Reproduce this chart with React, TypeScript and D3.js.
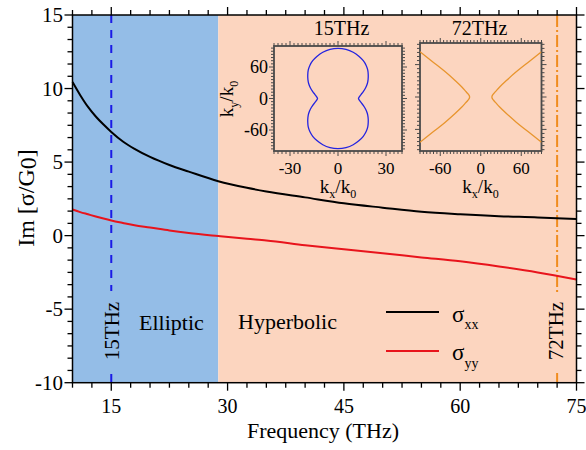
import React from 'react';
import * as d3 from 'd3';

// ---- main chart data ----
const freq = [10, 11, 12, 13, 14, 15, 16.5, 18, 20, 22.5, 25, 28.8, 32.5, 35, 40, 45, 50, 55, 60, 65, 70, 75];
const sigmaXX = [10.45, 9.55, 8.75, 8.1, 7.55, 7.05, 6.4, 5.9, 5.35, 4.8, 4.35, 3.7, 3.25, 3.0, 2.6, 2.2, 1.9, 1.62, 1.45, 1.32, 1.24, 1.12];
const sigmaYY = [1.78, 1.6, 1.45, 1.3, 1.16, 1.03, 0.86, 0.7, 0.55, 0.35, 0.18, -0.03, -0.22, -0.33, -0.65, -0.93, -1.2, -1.48, -1.75, -2.1, -2.5, -2.98];
const xTickLabels = [15, 30, 45, 60, 75];
const yTickLabels = [-10, -5, 0, 5, 10, 15];
const ellipticEnd = 28.8;
const marker15 = 15;
const marker72 = 72.5;

// ---- inset data (first quadrant, mirrored by symmetry) ----
const peanutKx = [12.8, 13.3, 14.5, 15.8, 17.2, 18.3, 18.8, 18.9, 18.6, 17.6, 15.8, 13.2, 9.5, 5.0, 0];
const peanutKy = [0, 3, 8, 13, 20, 28, 36, 45, 54, 63, 72, 80, 88, 93.5, 95.5];
const hyperKx = [16.5, 17.2, 19, 22.5, 28, 38, 53, 70, 90];
const hyperKy = [0, 3, 6, 11, 18.5, 30.5, 47, 64, 84];
const inset1XTicks = [-30, 0, 30];
const inset1YTicks = [60, 0, -60];
const inset2XTicks = [-60, 0, 60];
const inset2YTicks = [60, 0, -60];

const FONT = "'Liberation Serif', 'Times New Roman', serif";
const BLUE_BG = '#94bde7';
const PEACH_BG = '#fcd5bf';

const x = d3.scaleLinear().domain([10, 75]).range([72.5, 576.5]);
const y = d3.scaleLinear().domain([-10, 15]).range([382.7, 15]);

function Inset({ xs, ys, id, xMinorStep, yMinorStep, majorX, majorY }: any) {
  const [x0, x1] = xs.range();
  const [y0, y1] = ys.range(); // y0 bottom, y1 top
  const xd = xs.domain();
  const yd = ys.domain();
  const xMinor = d3.range(Math.ceil(xd[0] / xMinorStep) * xMinorStep, xd[1] + 1e-6, xMinorStep);
  const yMinor = d3.range(Math.ceil(yd[0] / yMinorStep) * yMinorStep, yd[1] + 1e-6, yMinorStep);
  const ticks: any[] = [];
  xMinor.forEach((v: number, i: number) => {
    const isMajor = majorX.some((m: number) => Math.abs(m - v) < 1e-6);
    const L = isMajor ? 5 : 3;
    const px = xs(v);
    ticks.push(<line key={`xb${i}`} x1={px} x2={px} y1={y0} y2={y0 + L} />);
    ticks.push(<line key={`xt${i}`} x1={px} x2={px} y1={y1} y2={y1 - L} />);
  });
  yMinor.forEach((v: number, i: number) => {
    const isMajor = majorY.some((m: number) => Math.abs(m - v) < 1e-6);
    const L = isMajor ? 5 : 3;
    const py = ys(v);
    ticks.push(<line key={`yl${i}`} x1={x0} x2={x0 - L} y1={py} y2={py} />);
    ticks.push(<line key={`yr${i}`} x1={x1} x2={x1 + L} y1={py} y2={py} />);
  });
  return (
    <g>
      <rect x={x0} y={y1} width={x1 - x0} height={y0 - y1} fill={PEACH_BG} />
      <clipPath id={id}>
        <rect x={x0} y={y1} width={x1 - x0} height={y0 - y1} />
      </clipPath>
      <g stroke="#4a4a4a" strokeWidth={1}>{ticks}</g>
      <rect x={x0} y={y1} width={x1 - x0} height={y0 - y1} fill="none" stroke="#4a4a4a" strokeWidth={1.8} />
    </g>
  );
}

function KLabel({ a, b }: { a: string; b: string }) {
  return (
    <>
      k<tspan fontSize={12} dy={5}>{a}</tspan>
      <tspan dy={-5}>/k</tspan>
      <tspan fontSize={12} dy={5}>{b}</tspan>
    </>
  );
}

export default function App() {
  const lineGen = d3
    .line<number>()
    .x((_, i) => x(freq[i]))
    .curve(d3.curveMonotoneX);
  const pathXX = lineGen.y((d) => y(d))(sigmaXX) as string;
  const pathYY = lineGen.y((d) => y(d))(sigmaYY) as string;

  const xMinor = d3.range(10, 75.001, 2.5);
  const yMinor = d3.range(0, 31).map((i) => -10 + (i * 5) / 6);

  const ix1 = d3.scaleLinear().domain([-40, 40]).range([274, 402]);
  const iy1 = d3.scaleLinear().domain([-100, 100]).range([151, 46]);
  const ix2 = d3.scaleLinear().domain([-90, 90]).range([420, 541.5]);
  const iy2 = d3.scaleLinear().domain([-100, 100]).range([151, 43]);

  const q1 = peanutKx.map((kx, i) => [kx, peanutKy[i]]);
  const peanutPts = [
    ...q1,
    ...q1.slice(0, -1).reverse().map(([a, b]) => [-a, b]),
    ...q1.slice(1).map(([a, b]) => [-a, -b]),
    ...q1.slice(1, -1).reverse().map(([a, b]) => [a, -b]),
  ];
  const peanutPath = d3
    .line<number[]>()
    .x((d) => ix1(d[0]))
    .y((d) => iy1(d[1]))
    .curve(d3.curveCatmullRomClosed)(peanutPts) as string;

  const hq = hyperKx.map((kx, i) => [kx, hyperKy[i]]);
  const rightBranch = [...hq.slice().reverse().map(([a, b]) => [a, -b]), ...hq.slice(1)];
  const leftBranch = rightBranch.map(([a, b]) => [-a, b]);
  const hLine = d3
    .line<number[]>()
    .x((d) => ix2(d[0]))
    .y((d) => iy2(d[1]))
    .curve(d3.curveCatmullRom);

  return (
    <svg
      width={586}
      height={450}
      style={{ position: 'absolute', left: 0, top: 0, background: '#fff' }}
      fontFamily={FONT}
    >
      {/* regions */}
      <rect x={x(10)} y={y(15)} width={x(ellipticEnd) - x(10)} height={y(-10) - y(15)} fill={BLUE_BG} />
      <rect x={x(ellipticEnd)} y={y(15)} width={x(75) - x(ellipticEnd)} height={y(-10) - y(15)} fill={PEACH_BG} />

      {/* marker lines */}
      <g stroke="#1a1ae6" strokeWidth={2} strokeDasharray="8,7">
        <line x1={x(marker15)} x2={x(marker15)} y1={y(15)} y2={291} />
        <line x1={x(marker15)} x2={x(marker15)} y1={374} y2={y(-10)} />
      </g>
      <g stroke="#f08c1e" strokeWidth={2} strokeDasharray="12,3,2,3">
        <line x1={x(marker72)} x2={x(marker72)} y1={y(15)} y2={292} />
        <line x1={x(marker72)} x2={x(marker72)} y1={373} y2={y(-10)} />
      </g>

      {/* curves */}
      <path d={pathXX} fill="none" stroke="#000" strokeWidth={2} />
      <path d={pathYY} fill="none" stroke="#e8141c" strokeWidth={2} />

      {/* insets */}
      <Inset xs={ix1} ys={iy1} id="clip1" xMinorStep={2.5} yMinorStep={6} majorX={inset1XTicks} majorY={inset1YTicks} />
      <path d={peanutPath} fill="none" stroke="#2424e0" strokeWidth={1.3} clipPath="url(#clip1)" />
      <Inset xs={ix2} ys={iy2} id="clip2" xMinorStep={5} yMinorStep={7.5} majorX={inset2XTicks} majorY={inset2YTicks} />
      <g clipPath="url(#clip2)" fill="none" stroke="#e8952e" strokeWidth={1.3}>
        <path d={hLine(rightBranch) as string} />
        <path d={hLine(leftBranch) as string} />
      </g>

      {/* inset texts */}
      <text x={341.5} y={35} fontSize={20} textAnchor="middle">15THz</text>
      <text x={479.5} y={35} fontSize={20} textAnchor="middle">72THz</text>
      {inset1YTicks.map((v) => (
        <text key={`i1y${v}`} x={268} y={iy1(v) + 6} fontSize={18} textAnchor="end">{v}</text>
      ))}
      {inset1XTicks.map((v) => (
        <text key={`i1x${v}`} x={ix1(v)} y={174} fontSize={17} textAnchor="middle">{v}</text>
      ))}
      {inset2XTicks.map((v) => (
        <text key={`i2x${v}`} x={ix2(v)} y={174} fontSize={17} textAnchor="middle">{v}</text>
      ))}
      <text x={338} y={193} fontSize={19} textAnchor="middle"><KLabel a="x" b="0" /></text>
      <text x={480.5} y={193} fontSize={19} textAnchor="middle"><KLabel a="x" b="0" /></text>
      <text transform="translate(233,99) rotate(-90)" fontSize={19} textAnchor="middle"><KLabel a="y" b="0" /></text>

      {/* frame and ticks */}
      <rect x={x(10)} y={y(15)} width={x(75) - x(10)} height={y(-10) - y(15)} fill="none" stroke="#000" strokeWidth={1.5} />
      <g stroke="#000" strokeWidth={1.3}>
        {xMinor.map((v, i) => {
          const L = v % 15 === 0 ? 8 : 5;
          return (
            <g key={`xt${i}`}>
              <line x1={x(v)} x2={x(v)} y1={y(-10)} y2={y(-10) + L} />
              <line x1={x(v)} x2={x(v)} y1={y(15)} y2={y(15) - L} />
            </g>
          );
        })}
        {yMinor.map((v, i) => {
          const L = i % 6 === 0 ? 8 : 5;
          return (
            <g key={`yt${i}`}>
              <line x1={x(10)} x2={x(10) - L} y1={y(v)} y2={y(v)} />
              <line x1={x(75)} x2={x(75) + L} y1={y(v)} y2={y(v)} />
            </g>
          );
        })}
      </g>

      {/* tick labels */}
      {xTickLabels.map((v) => (
        <text key={`xl${v}`} x={x(v)} y={413} fontSize={20} textAnchor="middle">{v}</text>
      ))}
      {yTickLabels.map((v) => (
        <text key={`yl${v}`} x={63} y={y(v) + 7} fontSize={21} textAnchor="end">{v}</text>
      ))}

      {/* axis titles */}
      <text x={323} y={438} fontSize={22} textAnchor="middle">Frequency (THz)</text>
      <text transform="translate(34,198) rotate(-90)" fontSize={24} textAnchor="middle">
        Im [σ/G<tspan dy={2}>0</tspan><tspan dy={-2}>]</tspan>
      </text>

      {/* region labels */}
      <text x={139} y={330} fontSize={22}>Elliptic</text>
      <text x={238} y={329} fontSize={22}>Hyperbolic</text>
      <text transform={`translate(118.5,331) rotate(-90)`} fontSize={21} textAnchor="middle">15THz</text>
      <text transform={`translate(563,331) rotate(-90)`} fontSize={21} textAnchor="middle">72THz</text>

      {/* legend */}
      <line x1={386} x2={439} y1={312} y2={312} stroke="#000" strokeWidth={2} />
      <line x1={386} x2={439} y1={351} y2={351} stroke="#e8141c" strokeWidth={2} />
      <text x={452} y={321.5} fontSize={23}>σ<tspan fontSize={14} dy={7.5}>xx</tspan></text>
      <text x={452} y={360} fontSize={23}>σ<tspan fontSize={14} dy={8}>yy</tspan></text>
    </svg>
  );
}
